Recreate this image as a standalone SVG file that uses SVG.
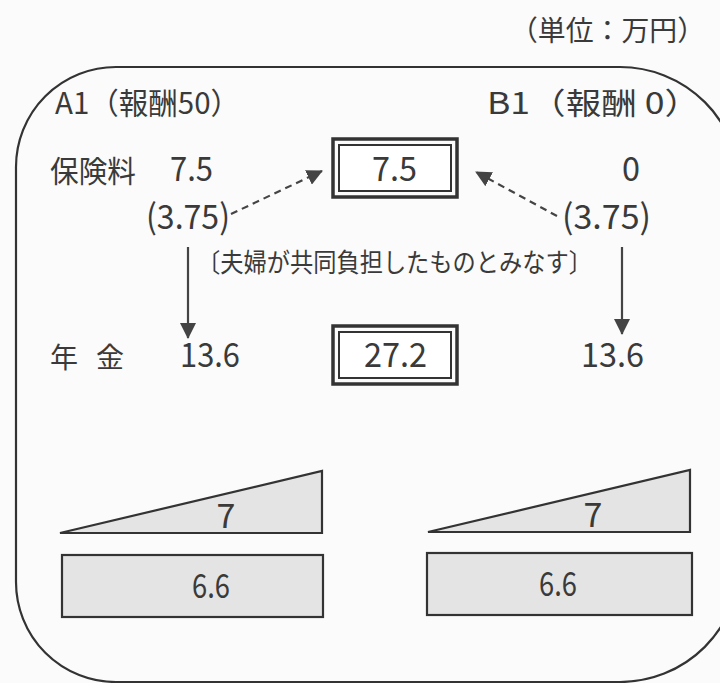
<svg xmlns="http://www.w3.org/2000/svg" width="720" height="683" viewBox="0 0 720 683">
<defs>
<marker id="ah" viewBox="0 0 16 16" refX="15" refY="8" markerWidth="16" markerHeight="16" markerUnits="userSpaceOnUse" orient="auto">
<path d="M0,0 L16,8 L0,16 Z" fill="#444"/>
</marker>
</defs>
<style>
.t{font-family:"Noto Sans CJK JP","Liberation Sans",sans-serif;fill:#3a3a3a;}
.n{font-family:"Noto Sans CJK JP","Liberation Sans",sans-serif;fill:#3a3a3a;font-size:34px;}
.shape{fill:#e4e4e4;stroke:#333;stroke-width:2.2;}
.box-o{fill:none;stroke:#333;stroke-width:3.5;}
.box-i{fill:#fff;stroke:#333;stroke-width:2;}
.solid{stroke:#444;stroke-width:2.2;fill:none;}
.dash{stroke:#444;stroke-width:2.2;fill:none;stroke-dasharray:7 5;}
</style>
<rect x="0" y="0" width="720" height="683" fill="#fbfbfb"/>
<text class="t" x="510" y="41" font-size="28" textLength="195" lengthAdjust="spacingAndGlyphs">（単位：万円）</text>
<path id="frame" d="M16,167 A100,100 0 0 1 116,67 L620,67 A120,120 0 0 1 740,187 L740,562 A120,120 0 0 1 620,682 L116,682 A100,100 0 0 1 16,582 Z" fill="none" stroke="#333" stroke-width="2.2"/>

<g id="labelA">
<text class="t" x="55" y="114" font-size="30" textLength="185" lengthAdjust="spacingAndGlyphs">A1（報酬50）</text>
</g>
<g id="labelB">
<text class="t" x="487" y="114" font-size="30" textLength="213" lengthAdjust="spacingAndGlyphs">B1（報酬 0）</text>
</g>

<g id="premiumA">
<text class="t" x="50" y="182" font-size="30" textLength="86" lengthAdjust="spacingAndGlyphs">保険料</text>
<text class="n" x="170" y="181" textLength="43" lengthAdjust="spacingAndGlyphs">7.5</text>
</g>
<g id="premiumTotal">
<rect class="box-o" x="333" y="139" width="124" height="58"/>
<rect class="box-i" x="339" y="145" width="112" height="46"/>
<text class="n" x="372" y="181" textLength="45" lengthAdjust="spacingAndGlyphs">7.5</text>
</g>
<g id="premiumB">
<text class="n" x="622" y="181" textLength="18" lengthAdjust="spacingAndGlyphs">0</text>
</g>

<g id="halfA">
<text class="n" x="146" y="229" textLength="84" lengthAdjust="spacingAndGlyphs">(3.75)</text>
</g>
<g id="halfB">
<text class="n" x="562" y="229" textLength="89" lengthAdjust="spacingAndGlyphs">(3.75)</text>
</g>

<g id="note">
<text class="t" x="197" y="272" font-size="26" textLength="395" lengthAdjust="spacingAndGlyphs">〔夫婦が共同負担したものとみなす〕</text>
</g>

<g id="pensionA">
<text class="t" x="50" y="368" font-size="28">年</text>
<text class="t" x="96" y="368" font-size="28">金</text>
<text class="n" x="180" y="367" textLength="60" lengthAdjust="spacingAndGlyphs">13.6</text>
</g>
<g id="pensionTotal">
<rect class="box-o" x="333" y="326" width="124" height="58"/>
<rect class="box-i" x="339" y="332" width="112" height="46"/>
<text class="n" x="364" y="367" textLength="63" lengthAdjust="spacingAndGlyphs">27.2</text>
</g>
<g id="pensionB">
<text class="n" x="581" y="367" textLength="63" lengthAdjust="spacingAndGlyphs">13.6</text>
</g>

<g id="triA">
<polygon class="shape" points="60,533 322,533 322,471"/>
<text class="n" x="226" y="528" font-size="32" text-anchor="middle">7</text>
</g>
<g id="triB">
<polygon class="shape" points="428,532 690,532 690,470"/>
<text class="n" x="593" y="527" font-size="32" text-anchor="middle">7</text>
</g>
<g id="rectA">
<rect class="shape" x="62" y="555" width="261" height="62"/>
<text class="n" x="192" y="598" font-size="30" textLength="38" lengthAdjust="spacingAndGlyphs">6.6</text>
</g>
<g id="rectB">
<rect class="shape" x="427" y="553" width="265" height="62"/>
<text class="n" x="539" y="596" font-size="30" textLength="38" lengthAdjust="spacingAndGlyphs">6.6</text>
</g>

<g id="connectors">
<line class="dash" x1="231" y1="214" x2="322" y2="171" marker-end="url(#ah)"/>
<line class="dash" x1="557" y1="216" x2="476" y2="172" marker-end="url(#ah)"/>
<line class="solid" x1="188" y1="247" x2="188" y2="338" marker-end="url(#ah)"/>
<line class="solid" x1="622" y1="247" x2="622" y2="334" marker-end="url(#ah)"/>
</g>
</svg>
